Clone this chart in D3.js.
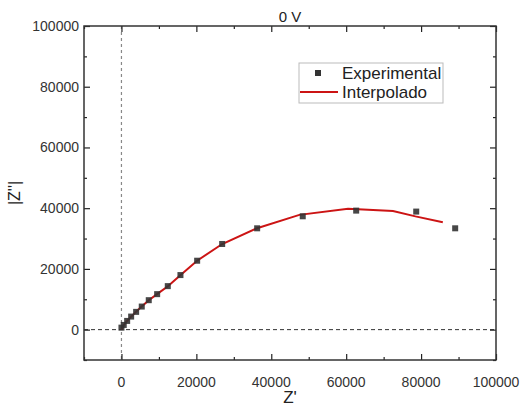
<!DOCTYPE html>
<html>
<head>
<meta charset="utf-8">
<script src="https://cdn.jsdelivr.net/npm/d3@7"></script>
<style>
  body { margin: 0; background: #fff; }
  svg { font-family: "Liberation Sans", Arial, sans-serif; }
</style>
</head>
<body>
<div id="chart"></div>
<script>
// datos experimentales (Z', |Z''|)
const expZre = [0, 610, 1520, 2590, 3920, 5420, 7290, 9530, 12370, 15750, 20210, 26890, 36230, 48400, 62670, 78700, 89100];
const expZim = [660, 1550, 2870, 4300, 5850, 7600, 9700, 11690, 14330, 17970, 22700, 28210, 33370, 37330, 39200, 38880, 33370];

// curva interpolada
const fitZre = [0, 600, 1500, 2600, 3900, 5400, 7300, 9500, 12400, 15800, 20200, 26900, 36200, 47500, 60500, 72500, 78500, 85800];
const fitZim = [0, 1500, 2900, 4300, 5900, 7600, 9700, 11700, 14300, 18000, 22700, 28200, 33400, 37800, 39800, 39100, 37300, 35400];

const xTicks = [0, 20000, 40000, 60000, 80000, 100000];
const yTicks = [0, 20000, 40000, 60000, 80000, 100000];
const minorTicks = d3.range(-10000, 100001, 10000);

const title = '0 V';
const xLabel = "Z'";
const yLabel = "|Z''|";
const legendLabels = ['Experimental', 'Interpolado'];

const W = 524, H = 412;
const m = { left: 84, right: 28, top: 26, bottom: 52 };
const w = W - m.left - m.right, h = H - m.top - m.bottom;

const svg = d3.select('#chart').append('svg').attr('width', W).attr('height', H);
const g = svg.append('g').attr('transform', `translate(${m.left},${m.top})`);

const x = d3.scaleLinear().domain([-10000, 100000]).range([0, w]);
const y = d3.scaleLinear().domain([-10000, 100000]).range([h, 0]);

// lineas de referencia
g.append('line').attr('x1', x(0)).attr('x2', x(0)).attr('y1', 0).attr('y2', h)
  .attr('stroke', '#888').attr('stroke-width', 1.2).attr('stroke-dasharray', '3,3');
g.append('line').attr('x1', 0).attr('x2', w).attr('y1', y(0)).attr('y2', y(0))
  .attr('stroke', '#333').attr('stroke-width', 1).attr('stroke-dasharray', '4,3');

// ejes con ticks hacia adentro
function ticks(axisFn, scale, vals, size, tr) {
  const a = g.append('g').attr('transform', tr)
    .call(axisFn(scale).tickValues(vals).tickSizeInner(size).tickSizeOuter(0).tickFormat(''));
  a.select('.domain').remove();
  a.selectAll('line').attr('stroke', '#222').attr('stroke-width', 1.2);
}
ticks(d3.axisTop, x, xTicks, 6, `translate(0,${h})`);
ticks(d3.axisTop, x, minorTicks.filter(v => !xTicks.includes(v)), 3, `translate(0,${h})`);
ticks(d3.axisBottom, x, xTicks, 6, 'translate(0,0)');
ticks(d3.axisBottom, x, minorTicks.filter(v => !xTicks.includes(v)), 3, 'translate(0,0)');
ticks(d3.axisRight, y, yTicks, 6, 'translate(0,0)');
ticks(d3.axisRight, y, minorTicks.filter(v => !yTicks.includes(v)), 3, 'translate(0,0)');
ticks(d3.axisLeft, y, yTicks, 6, `translate(${w},0)`);
ticks(d3.axisLeft, y, minorTicks.filter(v => !yTicks.includes(v)), 3, `translate(${w},0)`);

g.append('rect').attr('width', w).attr('height', h)
  .attr('fill', 'none').attr('stroke', '#333').attr('stroke-width', 1.5);

// etiquetas de ticks
g.selectAll('.xl').data(xTicks).enter().append('text')
  .attr('x', d => x(d)).attr('y', h + 27).attr('text-anchor', 'middle')
  .attr('font-size', 14).attr('fill', '#333').text(d => d);
g.selectAll('.yl').data(yTicks).enter().append('text')
  .attr('x', -5).attr('y', d => y(d) + 5).attr('text-anchor', 'end')
  .attr('font-size', 14).attr('fill', '#333').text(d => d);

// titulos
svg.append('text').attr('x', m.left + w / 2).attr('y', 22).attr('text-anchor', 'middle')
  .attr('font-size', 15).attr('fill', '#222').text(title);
svg.append('text').attr('x', m.left + w / 2).attr('y', 403).attr('text-anchor', 'middle')
  .attr('font-size', 17).attr('fill', '#222').text(xLabel);
svg.append('text').attr('transform', `translate(20,${m.top + h / 2}) rotate(-90)`)
  .attr('text-anchor', 'middle').attr('font-size', 16).attr('fill', '#222').text(yLabel);

// curva
const line = d3.line().x(d => x(d[0])).y(d => y(d[1]));
g.append('path').datum(fitZre.map((v, i) => [v, fitZim[i]]))
  .attr('d', line).attr('fill', 'none').attr('stroke', '#cc1414').attr('stroke-width', 2);

// puntos
const s = 6;
g.selectAll('.pt').data(expZre.map((v, i) => [v, expZim[i]])).enter().append('rect')
  .attr('x', d => x(d[0]) - s / 2).attr('y', d => y(d[1]) - s / 2)
  .attr('width', s).attr('height', s).attr('fill', '#333').attr('opacity', 0.9);

// leyenda
const lg = svg.append('g');
lg.append('rect').attr('x', 299).attr('y', 63).attr('width', 144).attr('height', 40)
  .attr('fill', '#fff').attr('stroke', '#bbb').attr('stroke-width', 1);
lg.append('rect').attr('x', 315).attr('y', 70).attr('width', 6).attr('height', 6).attr('fill', '#333');
lg.append('line').attr('x1', 300).attr('x2', 338).attr('y1', 92).attr('y2', 92)
  .attr('stroke', '#cc1414').attr('stroke-width', 2);
lg.selectAll('.lt').data(legendLabels).enter().append('text')
  .attr('x', 342).attr('y', (d, i) => 79 + i * 19).attr('font-size', 17).attr('fill', '#222').text(d => d);
</script>
</body>
</html>
